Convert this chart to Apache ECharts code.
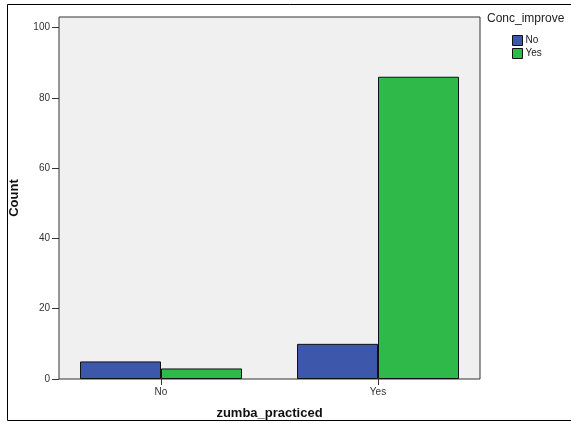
<!DOCTYPE html>
<html><head><meta charset="utf-8">
<script src="https://cdn.jsdelivr.net/npm/echarts@6/dist/echarts.min.js"></script>
<style>html,body{margin:0;padding:0;background:#fff}#c{width:571px;height:423px}</style>
</head><body><div id="c"></div>
<script>
const categories = ['No', 'Yes'];
const seriesNames = ['No', 'Yes'];
const valuesNo = [5, 10];
const valuesYes = [3, 86];
const yTicks = [0, 20, 40, 60, 80, 100];

const chart = echarts.init(document.getElementById('c'), null, {renderer: 'canvas'});
const font = 'Arial, "Liberation Sans", sans-serif';
chart.setOption({
  animation: false,
  backgroundColor: '#fff',
  title: {
    text: 'Conc_improve', left: 487, top: 13, padding: 0,
    textStyle: {fontFamily: font, fontSize: 12, fontWeight: 'normal', color: '#222'}
  },
  legend: {
    data: seriesNames, orient: 'vertical', left: 512, top: 35, padding: 0,
    itemWidth: 10, itemHeight: 10, itemGap: 2, icon: 'rect',
    itemStyle: {borderColor: '#111', borderWidth: 1},
    textStyle: {fontFamily: font, fontSize: 10, color: '#222', padding: [0, 0, 0, -2]}
  },
  graphic: [
    {type: 'polyline', shape: {points: [[571, 4.5], [7.5, 4.5], [7.5, 420.5], [571, 420.5]]},
     style: {stroke: '#000', lineWidth: 1, fill: null}, silent: true}
  ],
  grid: [
    {left: 59, top: 17, width: 421, height: 362, show: true, backgroundColor: '#f0f0f0',
     borderColor: '#333', borderWidth: 1, containLabel: false, outerBoundsMode: 'none'},
    {left: 52.5, top: 17, width: 434, height: 362, containLabel: false, outerBoundsMode: 'none'}
  ],
  xAxis: [
    {gridIndex: 0, type: 'category', data: categories, show: false},
    {gridIndex: 1, type: 'category', data: categories,
     name: 'zumba_practiced', nameLocation: 'middle', nameGap: 28,
     nameTextStyle: {fontFamily: font, fontSize: 13, fontWeight: 'bold', color: '#111'},
     axisLine: {show: false},
     axisTick: {show: true, alignWithLabel: true, length: 6, lineStyle: {color: '#333'}},
     axisLabel: {fontFamily: font, fontSize: 10, color: '#333', margin: 8}}
  ],
  yAxis: [
    {gridIndex: 0, type: 'value', min: 0, max: 103,
     name: 'Count', nameLocation: 'middle', nameGap: 38, nameRotate: 90,
     nameTextStyle: {fontFamily: font, fontSize: 13, fontWeight: 'bold', color: '#111'},
     axisLine: {show: false},
     axisTick: {show: true, length: 7, customValues: yTicks, lineStyle: {color: '#333'}},
     axisLabel: {fontFamily: font, fontSize: 10, color: '#333', margin: 9, customValues: yTicks},
     splitLine: {show: false}},
    {gridIndex: 1, type: 'value', min: 0, max: 103, show: false, splitLine: {show: false}}
  ],
  series: [
    {name: seriesNames[0], type: 'bar', xAxisIndex: 1, yAxisIndex: 1, data: valuesNo,
     barWidth: 81, barGap: '0%',
     itemStyle: {color: '#3d57aa', borderColor: '#111', borderWidth: 1}},
    {name: seriesNames[1], type: 'bar', xAxisIndex: 1, yAxisIndex: 1, data: valuesYes,
     barWidth: 81, barGap: '0%',
     itemStyle: {color: '#2fb949', borderColor: '#111', borderWidth: 1}}
  ]
});
</script></body></html>
